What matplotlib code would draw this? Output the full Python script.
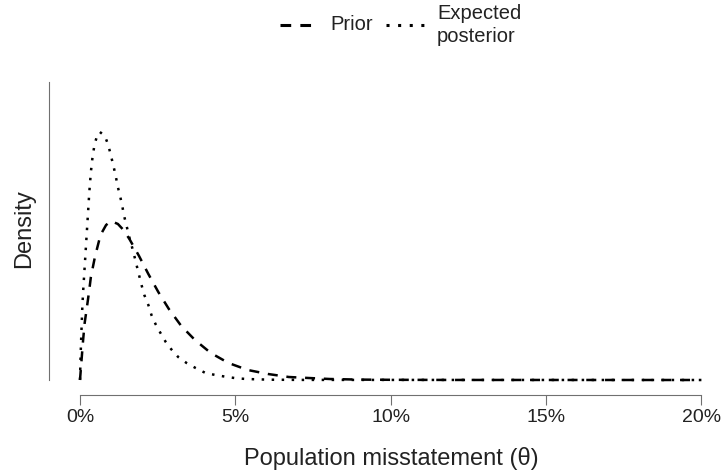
import matplotlib
matplotlib.use("Agg")
import matplotlib.pyplot as plt
from matplotlib.lines import Line2D

plt.rcParams['font.family'] = ['Liberation Sans', 'DejaVu Sans']

# population misstatement (%) and density (arbitrary units)
prior_theta = [0, 0.05, 0.10, 0.15, 0.21, 0.29, 0.35, 0.48, 0.66, 0.84, 1.00,
               1.22, 1.40, 1.59, 1.90, 2.20, 2.52, 2.86, 3.26, 3.70, 4.21,
               4.78, 5.40, 6.05, 6.72, 7.36, 8.04, 9.0, 10.0, 12.0, 20.0]
prior_dens = [0, 20, 40, 57, 70, 88, 103, 123, 145, 155, 159,
              156, 150, 141, 124, 106, 88, 71, 54, 40, 27,
              17, 10, 6, 3, 2, 1, 0.4, 0.2, 0.05, 0]

post_theta = [0, 0.02, 0.05, 0.075, 0.10, 0.15, 0.20, 0.25, 0.30, 0.35, 0.40,
              0.45, 0.50, 0.57, 0.64, 0.80, 0.91, 0.99, 1.07, 1.15, 1.21,
              1.29, 1.36, 1.42, 1.50, 1.61, 1.71, 1.82, 1.90, 1.98, 2.07,
              2.20, 2.30, 2.43, 2.59, 2.76, 2.93, 3.16, 3.43, 3.72, 4.04,
              4.36, 4.68, 5.04, 5.36, 6.11, 7.07, 20.0]
post_dens = [0, 25, 52, 73, 88, 113, 138, 163, 188, 208, 222,
             232, 239, 246, 248, 244, 235, 225, 215, 204, 194,
             184, 174, 164, 154, 140, 129, 115, 105, 95, 85,
             75, 65, 56, 47, 38, 31, 23, 17, 12, 7,
             5, 3.3, 1.7, 1, 0.3, 0.1, 0]

x_ticks = [0, 5, 10, 15, 20]
x_tick_labels = ['0%', '5%', '10%', '15%', '20%']

W, H = 728, 476
fig = plt.figure(figsize=(W / 100, H / 100), dpi=100, facecolor='white')
ax = fig.add_axes([49 / W, 1 - 395 / H, 671 / W, (395 - 82) / H])

ax.plot(prior_theta, prior_dens, color='black', lw=1.8, dashes=(4, 3.5))
ax.plot(post_theta, post_dens, color='black', lw=1.8, dashes=(1, 3))

ax.set_xlim(-31 / 31.07, 640 / 31.07)
ax.set_ylim(-15, 298)

for s in ['top', 'right']:
    ax.spines[s].set_visible(False)
ax.spines['left'].set_bounds(0, 298)
ax.spines['bottom'].set_bounds(0, 20)
ax.spines['left'].set_color('#707070')
ax.spines['bottom'].set_color('#707070')
ax.set_yticks([])
ax.set_xticks(x_ticks)
ax.set_xticklabels(x_tick_labels)
ax.tick_params(axis='x', length=7.2, color='#707070', labelsize=14, pad=3, labelcolor='#222222')

fig.text(391 / W, 1 - 458 / H, 'Population misstatement (θ)', ha='center', va='center',
         fontsize=17, color='#222222')
fig.text(24 / W, 1 - 229 / H, 'Density', ha='center', va='center', rotation=90,
         fontsize=17, color='#222222')

# legend, drawn by hand to keep the R-style layout
fig.add_artist(Line2D([280 / W, 316 / W], [1 - 25 / H, 1 - 25 / H], color='black', lw=2.2,
                      dashes=(3.5, 3), transform=fig.transFigure))
fig.text(330 / W, 1 - 25 / H, 'Prior', ha='left', va='center', fontsize=14.5, color='#222222')
fig.add_artist(Line2D([386 / W, 424 / W], [1 - 25 / H, 1 - 25 / H], color='black', lw=2.2,
                      dashes=(1, 2.8), transform=fig.transFigure))
fig.text(437 / W, 1 - 25 / H, 'Expected\nposterior', ha='left', va='center', fontsize=14.5,
         color='#222222', linespacing=1.25)

fig.savefig('out.png', dpi=100, facecolor='white')
